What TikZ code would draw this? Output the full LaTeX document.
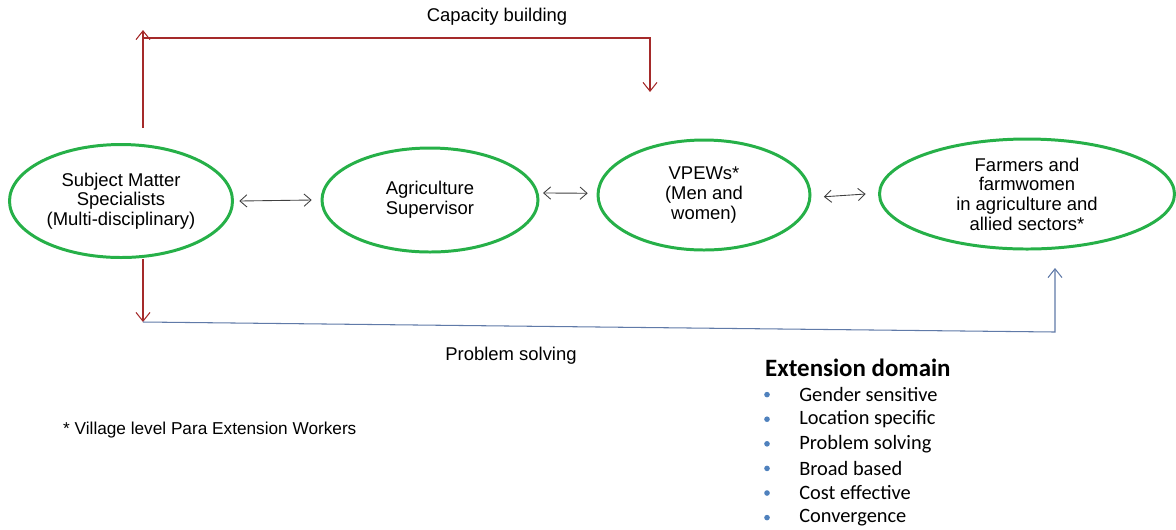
\documentclass[tikz,border=0pt]{standalone}
\usepackage{fontspec}
\setmainfont{Liberation Sans}
\newfontfamily\calibrifont{Carlito}
\usepackage{xcolor}
\usepackage{tikz}
\usetikzlibrary{shapes.geometric, arrows.meta, positioning, calc}
\definecolor{ringgreen}{RGB}{38, 176, 72}
\definecolor{buildred}{RGB}{165, 42, 42}
\definecolor{solveblue}{RGB}{96, 122, 168}
\definecolor{bulletblue}{RGB}{79, 129, 189}

\begin{document}
\begin{tikzpicture}[
    x=0.02cm, y=-0.02cm,
    actor/.style={draw=ringgreen, line width=1.7pt, ellipse, inner sep=0pt, align=center, font=\fontsize{10.5}{11.2}\selectfont},
    link/.style={{Straight Barb[length=4pt,width=7pt]}-{Straight Barb[length=4pt,width=7pt]}, line width=0.5pt, black!75},
    building/.style={-{Straight Barb[length=5pt,width=8pt]}, line width=0.6pt, buildred},
    solving/.style={-{Straight Barb[length=5pt,width=8pt]}, line width=0.6pt, solveblue},
    caption/.style={font=\fontsize{10.5}{12.5}\selectfont}
]
    \useasboundingbox (0,0) rectangle (1176,529);

    % Actors
    \node[actor, minimum width=223*0.02cm, minimum height=113*0.02cm] (sms) at (121,201) {Subject Matter\\Specialists\\(Multi-disciplinary)};
    \node[actor, minimum width=216*0.02cm, minimum height=104*0.02cm] (agri) at (430,200) {Agriculture\\Supervisor};
    \node[actor, minimum width=212*0.02cm, minimum height=110*0.02cm] (vpew) at (704,195) {VPEWs*\\(Men and\\women)};
    \node[actor, minimum width=295*0.02cm, minimum height=110*0.02cm] (farm) at (1027,194) {Farmers and\\farmwomen\\in agriculture and\\allied sectors*};

    % Two-way links
    \draw[link] ([xshift=3pt]sms.east) -- ([xshift=-5pt]agri.west);
    \draw[link] ([xshift=2pt,yshift=4pt]agri.east) -- ([xshift=-5pt,yshift=1pt]vpew.west);
    \draw[link] ([xshift=7pt,yshift=-1pt]vpew.east) -- ([xshift=-7pt]farm.west);

    % Capacity building
    \coordinate (cbfoot) at (143,128);
    \coordinate (cbtop) at (143,30);
    \coordinate (cbcorner) at (650,38);
    \coordinate (cbend) at (650,92);
    \draw[building] (cbfoot) -- (cbtop);
    \draw[building] (cbtop |- cbcorner) -- (cbcorner) -- (cbend);
    \node[caption] (cblabel) at (497,17) {Capacity building};

    % Problem solving
    \coordinate (psleft) at (143,322);
    \coordinate (psright) at (1055,332);
    \coordinate (psend) at (1055,268);
    \draw[building] (sms.south -| psleft) -- (psleft);
    \draw[solving] (psleft) -- (psright) -- (psend);
    \node[caption] (pslabel) at (511,356) {Problem solving};

    % Footnote
    \node[caption, font=\fontsize{9.8}{11}\selectfont, anchor=west] (note) at (57,430) {* Village level Para Extension Workers};

    % Extension domain
    \node[font=\calibrifont\bfseries\fontsize{14.2}{17}\selectfont, anchor=west] (domain) at (759,368) {Extension domain};
    \foreach \item [count=\i] in {Gender sensitive, Location specific, Problem solving, Broad based, Cost effective, Convergence} {
        \fill[bulletblue] (767,{370+24.6*\i}) circle (1.6pt);
        \node[font=\calibrifont\fontsize{11.6}{14}\selectfont, anchor=west, inner sep=0pt] (item\i) at (799,{370+24.6*\i}) {\item};
    }
\end{tikzpicture}
\end{document}
